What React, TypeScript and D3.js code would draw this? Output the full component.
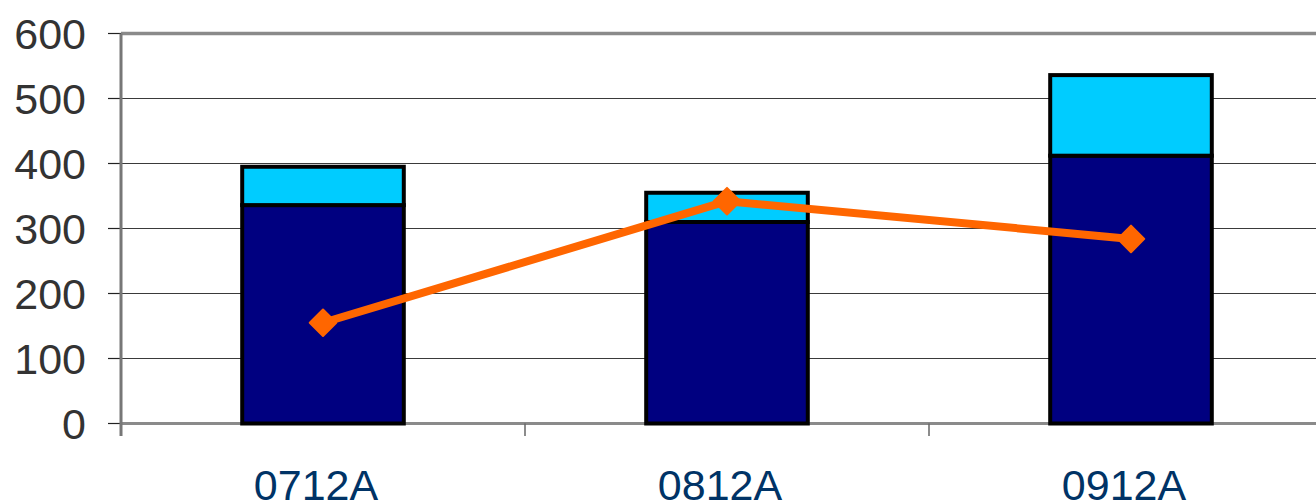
import React from "react";
import * as d3 from "d3";

const categories = ["0712A", "0812A", "0912A"];
const darkSeries = [336, 310, 412];
const lightSeries = [59, 45, 124];
const lineSeries = [155, 342, 284];
const yTicks = [0, 100, 200, 300, 400, 500, 600];

export default function App() {
  const W = 1316, H = 504;
  const left = 121, right = 1333, top = 33.5, bottom = 423.5;
  const x = d3.scaleBand<string>().domain(categories).range([left, right]).paddingInner(0.6).paddingOuter(0.3);
  const y = d3.scaleLinear().domain([0, 600]).range([bottom, top]);
  const step = x.step();
  const bw = x.bandwidth();
  const cx = (c: string) => (x(c) as number) + bw / 2;
  const line = d3.line<number>().x((_, i) => cx(categories[i])).y((d) => y(d));
  const diamond = d3.symbol().type(d3.symbolDiamond2).size(2 * 15 * 15)();
  const font = "Arial, 'Liberation Sans', sans-serif";
  return (
    <svg width={W} height={H} style={{ position: "absolute", left: 0, top: 0 }}>
      <rect x={0} y={0} width={W} height={H} fill="#fff" />
      {yTicks.filter((t) => t > 0 && t < 600).map((t) => (
        <line key={t} x1={left} x2={right} y1={y(t)} y2={y(t)} stroke="#3a3a3a" strokeWidth={1.2} />
      ))}
      <line x1={left} x2={right} y1={y(600)} y2={y(600)} stroke="#8a8a8a" strokeWidth={3.5} />
      {yTicks.map((t) => (
        <g key={t}>
          <line x1={108} x2={left} y1={y(t)} y2={y(t)} stroke="#222" strokeWidth={1.2} />
          <text x={86} y={y(t)} dy="0.36em" textAnchor="end" fontSize={43} fontFamily={font} fill="#333">{t}</text>
        </g>
      ))}
      <line x1={left} x2={right} y1={bottom} y2={bottom} stroke="#8a8a8a" strokeWidth={3} />
      <line x1={left} x2={left} y1={top} y2={436} stroke="#777" strokeWidth={3} />
      {categories.map((c, i) => (
        <line key={c} x1={left + (i + 1) * step} x2={left + (i + 1) * step} y1={bottom} y2={436} stroke="#666" strokeWidth={1.5} />
      ))}
      {categories.map((c, i) => (
        <g key={c}>
          <rect x={x(c)} y={y(darkSeries[i])} width={bw} height={y(0) - y(darkSeries[i])} fill="#000080" stroke="#000" strokeWidth={4} />
          <rect x={x(c)} y={y(darkSeries[i] + lightSeries[i])} width={bw} height={y(darkSeries[i]) - y(darkSeries[i] + lightSeries[i])} fill="#00CCFF" stroke="#000" strokeWidth={4} />
        </g>
      ))}
      <path d={line(lineSeries) || ""} fill="none" stroke="#FF6600" strokeWidth={8} strokeLinejoin="round" />
      {lineSeries.map((v, i) => (
        <path key={i} d={diamond || ""} transform={`translate(${cx(categories[i])},${y(v)})`} fill="#FF6600" stroke="#FF6600" strokeWidth={2} strokeLinejoin="round" />
      ))}
      {categories.map((c) => (
        <text key={c} x={cx(c) - 7} y={500} textAnchor="middle" fontSize={43} fontFamily={font} fill="#003366">{c}</text>
      ))}
    </svg>
  );
}
